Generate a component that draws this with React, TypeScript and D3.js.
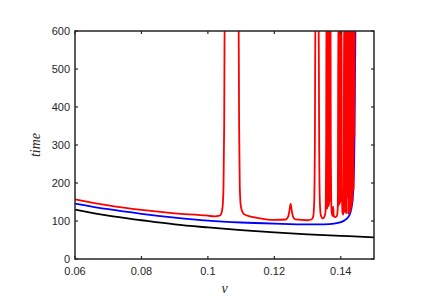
import { useEffect, useRef } from 'react'
import * as d3 from 'd3'

// tick values
const xTicks = [0.06, 0.08, 0.1, 0.12, 0.14]
const yTicks = [0, 100, 200, 300, 400, 500, 600]

// black curve (v, time)
const blackCurve: [number, number][] = [
  [0.06, 130], [0.07, 114], [0.08, 102], [0.09, 91], [0.1, 83],
  [0.11, 76], [0.12, 70], [0.13, 65], [0.14, 61], [0.15, 57],
]

// blue curve (v, time)
const blueCurve: [number, number][] = [
  [0.06, 146], [0.07, 131], [0.08, 119], [0.09, 109], [0.1, 101],
  [0.11, 96], [0.12, 93], [0.13, 91], [0.135, 91], [0.138, 93],
  [0.14, 97], [0.141, 101], [0.142, 108], [0.1428, 120], [0.1434, 145],
  [0.1438, 190], [0.1441, 300], [0.1443, 500], [0.1445, 700],
]

// red curve (v, time), spikes run off the top of the axes
const redCurve: [number, number][] = [
  [0.06, 157], [0.07, 141], [0.08, 129], [0.09, 120], [0.1, 114],
  [0.102, 112], [0.1035, 114], [0.104, 119], [0.1044, 135], [0.1047, 190],
  [0.1049, 350], [0.1051, 700], [0.1092, 700], [0.1094, 350], [0.1096, 190],
  [0.1099, 140], [0.1104, 124], [0.111, 117], [0.1157, 107], [0.12, 103],
  [0.1235, 104], [0.1242, 112], [0.1246, 130], [0.1249, 145], [0.1252, 130],
  [0.1256, 112], [0.1263, 104], [0.13, 102], [0.1312, 104], [0.1317, 112],
  [0.132, 150], [0.1322, 300], [0.1324, 700], [0.1333, 700], [0.1335, 300],
  [0.1337, 150], [0.134, 115], [0.1345, 107], [0.135, 110], [0.1354, 125],
  [0.1356, 300], [0.1357, 700], [0.13585, 130], [0.136, 700], [0.13615, 135],
  [0.1363, 700], [0.13645, 140], [0.1366, 700], [0.13675, 150], [0.1369, 700],
  [0.137, 300], [0.1372, 130], [0.1375, 113], [0.1377, 138], [0.1379, 113],
  [0.1383, 110], [0.1388, 113], [0.1391, 135], [0.1393, 700], [0.13945, 140],
  [0.1396, 700], [0.13975, 145], [0.1399, 700], [0.14005, 150], [0.1402, 700],
  [0.1403, 250], [0.1405, 122], [0.1407, 117], [0.1409, 130], [0.141, 700],
  [0.14115, 125], [0.1413, 700], [0.14145, 120], [0.1416, 700], [0.14175, 118],
  [0.1419, 700], [0.14205, 160], [0.1422, 700], [0.14235, 117], [0.1425, 700],
  [0.14265, 120], [0.1428, 700], [0.14295, 125], [0.1431, 700], [0.14325, 135],
  [0.1434, 700], [0.14355, 150], [0.1437, 700], [0.14385, 180], [0.144, 700],
  [0.1441, 320], [0.1442, 700], [0.1443, 600], [0.1444, 700],
]

const App = () => {
  const svgRef = useRef<SVGSVGElement>(null)

  useEffect(() => {
    if (!svgRef.current) return
    const svg = d3.select(svgRef.current)
    svg.selectAll('*').remove()

    const left = 75
    const right = 374
    const top = 31
    const bottom = 259
    const axisColor = '#262626'

    const x = d3.scaleLinear().domain([0.06, 0.15]).range([left, right])
    const y = d3.scaleLinear().domain([0, 600]).range([bottom, top])

    svg.append('rect').attr('width', 436).attr('height', 308).attr('fill', 'white')

    svg
      .append('defs')
      .append('clipPath')
      .attr('id', 'plot-clip')
      .append('rect')
      .attr('x', left)
      .attr('y', top)
      .attr('width', right - left)
      .attr('height', bottom - top)

    const line = d3
      .line<[number, number]>()
      .x((d) => x(d[0]))
      .y((d) => y(d[1]))
      .curve(d3.curveMonotoneX)

    const plot = svg.append('g').attr('clip-path', 'url(#plot-clip)')

    const series: [[number, number][], string][] = [
      [blackCurve, '#000000'],
      [blueCurve, '#0000ff'],
      [redCurve, '#ff0000'],
    ]
    series.forEach(([data, color]) => {
      plot
        .append('path')
        .datum(data)
        .attr('d', line)
        .attr('fill', 'none')
        .attr('stroke', color)
        .attr('stroke-width', 1.8)
        .attr('stroke-linejoin', 'round')
    })

    // axes box
    const axes = svg.append('g')
    axes
      .append('rect')
      .attr('x', left)
      .attr('y', top)
      .attr('width', right - left)
      .attr('height', bottom - top)
      .attr('fill', 'none')
      .attr('stroke', axisColor)
      .attr('stroke-width', 1.5)

    const tickLen = 3
    xTicks.forEach((t) => {
      const px = x(t)
      axes.append('line').attr('x1', px).attr('x2', px).attr('y1', bottom).attr('y2', bottom - tickLen)
        .attr('stroke', axisColor).attr('stroke-width', 1.2)
      axes.append('line').attr('x1', px).attr('x2', px).attr('y1', top).attr('y2', top + tickLen)
        .attr('stroke', axisColor).attr('stroke-width', 1.2)
      axes
        .append('text')
        .attr('x', px)
        .attr('y', bottom + 16)
        .attr('text-anchor', 'middle')
        .style('font-family', 'Liberation Sans, Arial, sans-serif')
        .style('font-size', '11px')
        .style('fill', axisColor)
        .text(d3.format('')(t))
    })

    yTicks.forEach((t) => {
      const py = y(t)
      axes.append('line').attr('x1', left).attr('x2', left + tickLen).attr('y1', py).attr('y2', py)
        .attr('stroke', axisColor).attr('stroke-width', 1.2)
      axes.append('line').attr('x1', right).attr('x2', right - tickLen).attr('y1', py).attr('y2', py)
        .attr('stroke', axisColor).attr('stroke-width', 1.2)
      axes
        .append('text')
        .attr('x', left - 5)
        .attr('y', py + 4)
        .attr('text-anchor', 'end')
        .style('font-family', 'Liberation Sans, Arial, sans-serif')
        .style('font-size', '11px')
        .style('fill', axisColor)
        .text(String(t))
    })

    // axis labels
    svg
      .append('text')
      .attr('x', (left + right) / 2)
      .attr('y', 293)
      .attr('text-anchor', 'middle')
      .style('font-family', 'Liberation Serif, serif')
      .style('font-style', 'italic')
      .style('font-size', '14px')
      .style('fill', axisColor)
      .text('v')

    svg
      .append('text')
      .attr('transform', `translate(40, ${(top + bottom) / 2}) rotate(-90)`)
      .attr('text-anchor', 'middle')
      .style('font-family', 'Liberation Serif, serif')
      .style('font-style', 'italic')
      .style('font-size', '14px')
      .style('fill', axisColor)
      .text('time')
  }, [])

  return (
    <svg
      ref={svgRef}
      width={436}
      height={308}
      style={{ position: 'absolute', left: 0, top: 0 }}
    />
  )
}

export default App
